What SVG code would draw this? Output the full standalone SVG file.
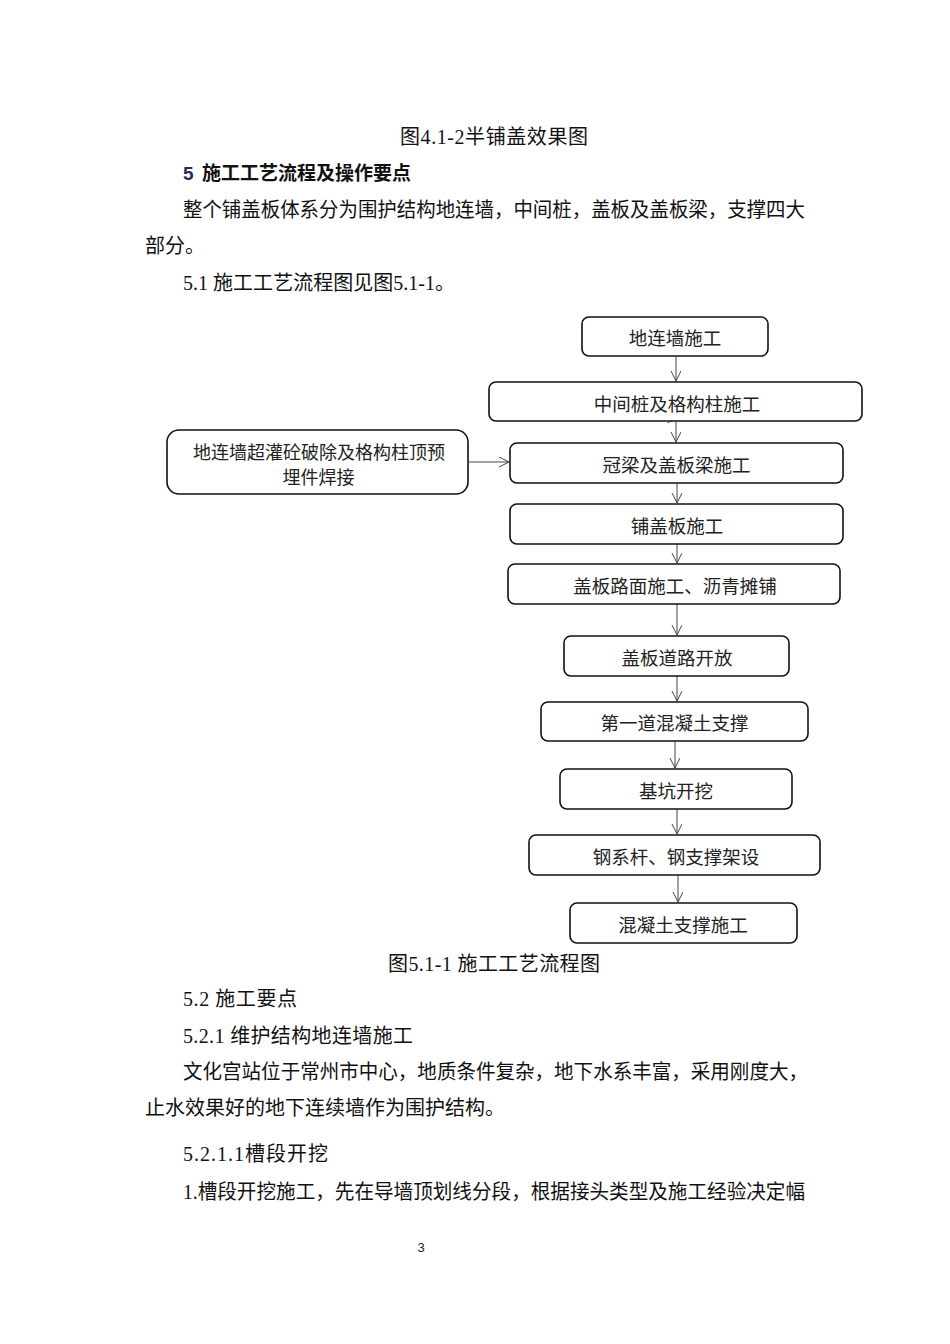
<svg xmlns="http://www.w3.org/2000/svg" width="950" height="1344" viewBox="0 0 950 1344">
<defs>
<marker id="arr" markerUnits="userSpaceOnUse" markerWidth="12" markerHeight="12" refX="10" refY="5" orient="auto">
<path d="M0,0 L10,5 L0,10" fill="none" stroke="#444" stroke-width="1"/>
</marker>
</defs>
<style>
.body{font-family:"Liberation Serif","Noto Sans CJK SC",serif;font-size:20px;fill:#111;}
.head{font-family:"Liberation Sans","Noto Sans CJK SC",sans-serif;font-size:19px;font-weight:bold;fill:#111;}
.box{fill:#fff;stroke:#111;stroke-width:1.6;}
.lbl{font-family:"Noto Sans CJK SC",sans-serif;font-size:18.5px;fill:#222;text-anchor:middle;dominant-baseline:central;}
.lbl2{font-family:"Noto Sans CJK SC",sans-serif;font-size:18px;fill:#222;text-anchor:middle;dominant-baseline:central;}
.con{stroke:#444;stroke-width:1;fill:none;marker-end:url(#arr);}
</style>
<rect width="950" height="1344" fill="#fff"/>

<g id="page-text">
<text class="body" x="400" y="144" textLength="188" lengthAdjust="spacing">图4.1-2半铺盖效果图</text>
<text class="head" x="183" y="180"><tspan fill="#1f3050">5</tspan><tspan x="202">施工工艺流程及操作要点</tspan></text>
<text class="body" x="183" y="217" textLength="622" lengthAdjust="spacingAndGlyphs">整个铺盖板体系分为围护结构地连墙，中间桩，盖板及盖板梁，支撑四大</text>
<text class="body" x="145" y="253">部分。</text>
<text class="body" x="183" y="290" textLength="272" lengthAdjust="spacing">5.1 施工工艺流程图见图5.1-1。</text>
<text class="body" x="388" y="971" textLength="212" lengthAdjust="spacing">图5.1-1 施工工艺流程图</text>
<text class="body" x="183" y="1006" textLength="114" lengthAdjust="spacing">5.2 施工要点</text>
<text class="body" x="183" y="1043" textLength="230" lengthAdjust="spacing">5.2.1 维护结构地连墙施工</text>
<text class="body" x="183" y="1079" textLength="625" lengthAdjust="spacingAndGlyphs">文化宫站位于常州市中心，地质条件复杂，地下水系丰富，采用刚度大，</text>
<text class="body" x="145" y="1115">止水效果好的地下连续墙作为围护结构。</text>
<text class="body" x="183" y="1161" textLength="145" lengthAdjust="spacing">5.2.1.1槽段开挖</text>
<text class="body" x="183" y="1199" textLength="622" lengthAdjust="spacingAndGlyphs">1.槽段开挖施工，先在导墙顶划线分段，根据接头类型及施工经验决定幅</text>
<text x="421" y="1252" style="font-family:'Liberation Sans',sans-serif;font-size:13px;fill:#222;" text-anchor="middle">3</text>
</g>

<g id="connectors">
<line class="con" x1="676" y1="357" x2="676" y2="381"/>
<line class="con" x1="676" y1="422" x2="676" y2="442"/>
<path d="M668,416 L673,421 L667,423" fill="none" stroke="#5b9bd5" stroke-width="1"/>
<line class="con" x1="469" y1="462" x2="509" y2="462"/>
<line class="con" x1="677" y1="483" x2="677" y2="503"/>
<line class="con" x1="677" y1="544" x2="677" y2="563"/>
<line class="con" x1="677" y1="604" x2="677" y2="635"/>
<line class="con" x1="677" y1="676" x2="677" y2="701"/>
<line class="con" x1="675" y1="741" x2="675" y2="768"/>
<line class="con" x1="677" y1="809" x2="677" y2="834"/>
<line class="con" x1="678" y1="875" x2="678" y2="902"/>
</g>

<g id="n1"><rect class="box" x="582" y="317" width="186" height="39" rx="7"/><text class="lbl" x="675" y="337">地连墙施工</text></g>
<g id="n2"><rect class="box" x="489" y="382" width="373" height="39" rx="7"/><text class="lbl" x="677" y="403">中间桩及格构柱施工</text></g>
<g id="n0"><rect class="box" x="167" y="430" width="301" height="64" rx="12"/><text class="lbl2" x="319" y="451">地连墙超灌砼破除及格构柱顶预</text><text class="lbl2" x="318.5" y="476">埋件焊接</text></g>
<g id="n3"><rect class="box" x="510" y="443" width="333" height="40" rx="7"/><text class="lbl" x="676.5" y="464">冠梁及盖板梁施工</text></g>
<g id="n4"><rect class="box" x="510" y="504" width="333" height="40" rx="7"/><text class="lbl" x="677" y="525">铺盖板施工</text></g>
<g id="n5"><rect class="box" x="508" y="564" width="332" height="40" rx="7"/><text class="lbl" x="675" y="585">盖板路面施工、沥青摊铺</text></g>
<g id="n6"><rect class="box" x="564" y="636" width="225" height="40" rx="7"/><text class="lbl" x="677" y="657">盖板道路开放</text></g>
<g id="n7"><rect class="box" x="541" y="702" width="267" height="39" rx="7"/><text class="lbl" x="674.5" y="722">第一道混凝土支撑</text></g>
<g id="n8"><rect class="box" x="560" y="769" width="232" height="40" rx="7"/><text class="lbl" x="676" y="790">基坑开挖</text></g>
<g id="n9"><rect class="box" x="529" y="835" width="291" height="40" rx="7"/><text class="lbl" x="676" y="856">钢系杆、钢支撑架设</text></g>
<g id="n10"><rect class="box" x="570" y="903" width="227" height="40" rx="7"/><text class="lbl" x="683" y="924">混凝土支撑施工</text></g>
</svg>
